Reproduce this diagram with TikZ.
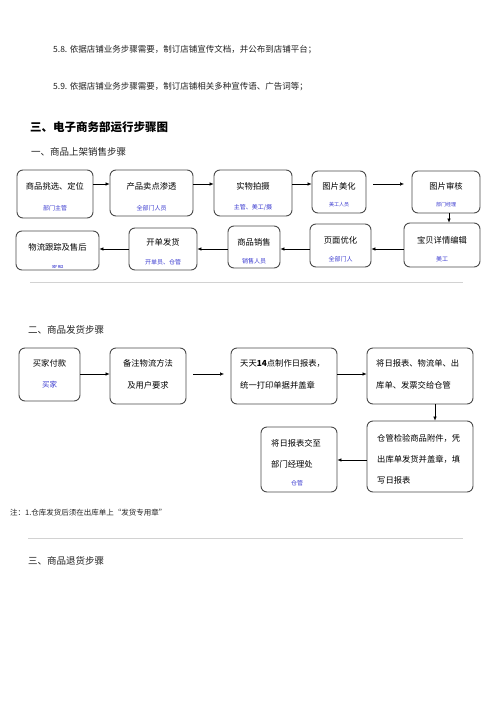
\documentclass[tikz,border=0pt]{standalone}
\usepackage{fontspec}
\setmainfont{Noto Sans CJK SC}
\usetikzlibrary{arrows.meta}
\definecolor{boxline}{HTML}{4A4A4A}
\definecolor{staff}{HTML}{3A3AD0}
\definecolor{bodytxt}{HTML}{222222}
\tikzset{
  flowbox/.style={draw=boxline, line width=0.9pt, rounded corners=6pt, minimum width=#1},
  flowbox/.default=60pt,
  maintxt/.style={font=\fontsize{8.3}{10}\selectfont, text=black, inner sep=0pt},
  stafftxt/.style={font=\fontsize{6}{7}\selectfont, text=staff, inner sep=0pt},
  bodyline/.style={font=\fontsize{8.5}{10}\selectfont, text=bodytxt, anchor=west, inner sep=0pt},
  flowarrow/.style={draw=black, line width=0.5pt, -{Latex[length=4pt,width=3.5pt]}},
  sepline/.style={draw=gray!35, line width=0.6pt}
}
\begin{document}
\begin{tikzpicture}[x=1pt,y=-1pt]
\useasboundingbox[fill=white] (0,0) rectangle (500,707);

% top text
\node[bodyline] (t58) at (53,50) {5.8. 依据店铺业务步骤需要，制订店铺宣传文档，并公布到店铺平台；};
\node[bodyline] (t59) at (53,87) {5.9. 依据店铺业务步骤需要，制订店铺相关多种宣传语、广告词等；};
\node[bodyline, font=\fontsize{11.5}{13}\selectfont\bfseries, text=black] (h3) at (30,127) {三、电子商务部运行步骤图};
\node[bodyline, font=\fontsize{9.5}{11}\selectfont] (h31) at (31,152) {一、商品上架销售步骤};

% row 1 boxes
\node[flowbox=76pt, minimum height=48pt] (a1) at (55,194) {};
\node[flowbox=83pt, minimum height=46pt] (a2) at (151.5,193) {};
\node[flowbox=78pt, minimum height=46pt] (a3) at (253,193) {};
\node[flowbox=54pt, minimum height=42pt] (a4) at (339,192) {};
\node[flowbox=68pt, minimum height=42pt] (a5) at (446,192) {};
\node[maintxt] (a1t) at (55,186) {商品挑选、定位};
\node[stafftxt] (a1s) at (55,208) {部门主管};
\node[maintxt] (a2t) at (151.5,186) {产品卖点渗透};
\node[stafftxt] (a2s) at (151.5,208) {全部门人员};
\node[maintxt] (a3t) at (253,186) {实物拍摄};
\node[stafftxt] (a3s) at (253,208) {主管、美工/摄};
\node[maintxt] (a4t) at (339,186) {图片美化};
\node[stafftxt, font=\fontsize{5}{6}\selectfont] (a4s) at (339,205) {美工人员};
\node[maintxt] (a5t) at (446,186) {图片审核};
\node[stafftxt, font=\fontsize{5}{6}\selectfont] (a5s) at (446,205) {部门经理};

% row 2 boxes
\node[flowbox=76pt, minimum height=44pt] (b1) at (442,245) {};
\node[flowbox=61pt, minimum height=43pt] (b2) at (340.5,245.5) {};
\node[flowbox=52pt, minimum height=42pt] (b3) at (254,247) {};
\node[flowbox=68pt, minimum height=42pt] (b4) at (163,249) {};
\node[flowbox=83pt, minimum height=39pt] (b5) at (57.5,250.5) {};
\node[maintxt] (b1t) at (442,240) {宝贝详情编辑};
\node[stafftxt] (b1s) at (442,259) {美工};
\node[maintxt] (b2t) at (340.5,240) {页面优化};
\node[stafftxt] (b2s) at (340.5,259) {全部门人};
\node[maintxt] (b3t) at (254,242) {商品销售};
\node[stafftxt] (b3s) at (254,261) {销售人员};
\node[maintxt] (b4t) at (163,242) {开单发货};
\node[stafftxt] (b4s) at (163,262) {开单员、仓管};
\node[maintxt] (b5t) at (57.5,247) {物流跟踪及售后};
\begin{scope}
\clip (20,262) rectangle (95,267.5);
\node[stafftxt] (b5s) at (57.5,268) {客服};
\end{scope}

% row arrows section 1
\draw[flowarrow] (a1.east |- 0,184) -- (a2.west |- 0,184);
\draw[flowarrow] (a2.east |- 0,184) -- (a3.west |- 0,184);
\draw[flowarrow] (a3.east |- 0,184) -- (a4.west |- 0,184);
\coordinate (g1) at (373,184);
\coordinate (g2) at (404,184);
\draw[flowarrow] (g1) -- (g2);
\draw[flowarrow] (a5.south -| 449,0) -- (b1.north -| 449,0);
\draw[flowarrow] (b1.west |- 0,249) -- (b2.east |- 0,249);
\draw[flowarrow] (b2.west |- 0,249) -- (b3.east |- 0,249);
\draw[flowarrow] (b3.west |- 0,249) -- (b4.east |- 0,249);
\draw[flowarrow] (b4.west |- 0,249) -- (b5.east |- 0,249);

\coordinate (s1a) at (30,282);
\coordinate (s1b) at (463,282);
\draw[sepline] (s1a) -- (s1b);

% section 2
\node[bodyline, font=\fontsize{9.5}{11}\selectfont] (h32) at (28,330) {二、商品发货步骤};
\node[flowbox=61pt, minimum height=53pt] (c1) at (49.5,374.5) {};
\node[flowbox=76pt, minimum height=56pt] (c2) at (148,376) {};
\node[flowbox=106pt, minimum height=56pt] (c3) at (284,376) {};
\node[flowbox=106pt, minimum height=56pt] (c4) at (420,376) {};
\node[flowbox=106pt, minimum height=71pt] (c5) at (420,456.5) {};
\node[flowbox=76pt, minimum height=65pt] (c6) at (299,459.5) {};

\node[maintxt] (c1t) at (49.5,363) {买家付款};
\node[stafftxt, font=\fontsize{7.5}{9}\selectfont] (c1s) at (49.5,385) {买家};
\node[maintxt] (c2t) at (148,363) {备注物流方法};
\node[maintxt] (c2u) at (148,385) {及用户要求};
\node[maintxt, anchor=west] (c3t) at (240,363) {天天\textbf{14}点制作日报表，};
\node[maintxt, anchor=west] (c3u) at (240,385) {统一打印单据并盖章};
\node[maintxt, anchor=west] (c4t) at (376,363) {将日报表、物流单、出};
\node[maintxt, anchor=west] (c4u) at (376,385) {库单、发票交给仓管};
\node[maintxt, anchor=west] (c5t) at (377,438) {仓管检验商品附件，凭};
\node[maintxt, anchor=west] (c5u) at (377,459) {出库单发货并盖章，填};
\node[maintxt, anchor=west] (c5v) at (377,480) {写日报表};
\node[maintxt, anchor=west] (c6t) at (271,443) {将日报表交至};
\node[maintxt, anchor=west] (c6u) at (271,464) {部门经理处};
\node[stafftxt] (c6s) at (297,483) {仓管};

\draw[flowarrow] (c1.east |- 0,374) -- (c2.west |- 0,374);
\coordinate (g3) at (193,374);
\coordinate (g4) at (224,374);
\draw[flowarrow] (g3) -- (g4);
\draw[flowarrow] (c3.east |- 0,374) -- (c4.west |- 0,374);
\draw[flowarrow] (c4.south -| 435,0) -- (c5.north -| 435,0);
\draw[flowarrow] (c5.west |- 0,460) -- (c6.east |- 0,460);

\node[bodyline, font=\fontsize{7.5}{9}\selectfont] (note) at (10,513) {注：1.仓库发货后须在出库单上“发货专用章”};
\coordinate (s2a) at (28,538);
\coordinate (s2b) at (463,538);
\draw[sepline] (s2a) -- (s2b);
\node[bodyline, font=\fontsize{9.5}{11}\selectfont] (h33) at (28,561) {三、商品退货步骤};
\end{tikzpicture}
\end{document}
